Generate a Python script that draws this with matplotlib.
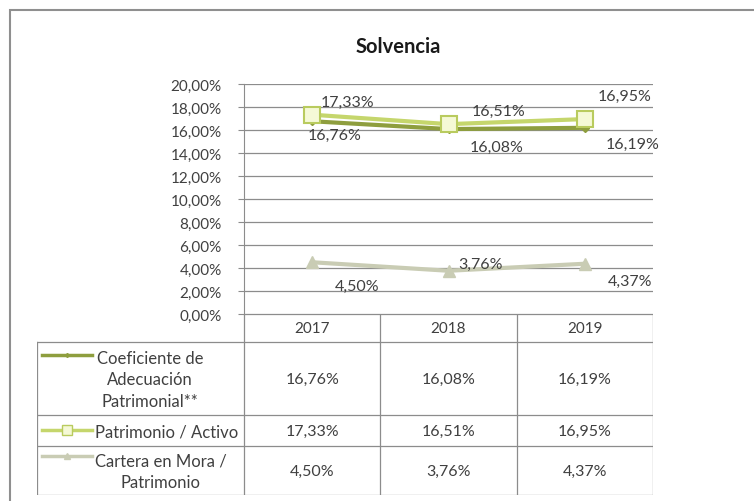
import matplotlib
matplotlib.use("Agg")
import matplotlib.pyplot as plt
from matplotlib.patches import Rectangle

years = ["2017", "2018", "2019"]
coef_adecuacion = [16.76, 16.08, 16.19]
patrimonio_activo = [17.33, 16.51, 16.95]
cartera_mora = [4.50, 3.76, 4.37]
series_names = ["Coeficiente de\nAdecuación\nPatrimonial**",
                "Patrimonio / Activo",
                "Cartera en Mora /\nPatrimonio"]
y_ticks = [0, 2, 4, 6, 8, 10, 12, 14, 16, 18, 20]


def pct(v):
    return f"{v:.2f}%".replace(".", ",")


plt.rcParams["font.family"] = ["Lato", "DejaVu Sans"]
TXT = "#404040"
GRID = "#8c8c8c"

# line styles for the three series
styles = [
    dict(color="#8e9e3e", lw=3.0, marker="D", ms=4, mfc="#8e9e3e", mec="#8e9e3e"),
    dict(color="#c5d66c", lw=3.0, marker="s", ms=11, mfc="#f5f9d6", mec="#b9cb5e", mew=1.5),
    dict(color="#c9ccb4", lw=3.0, marker="^", ms=9, mfc="#c9ccb4", mec="#c9ccb4"),
]
# data label offsets in pixels (dx, dy with dy positive = down)
label_offsets = [
    [(22, 14), (48, 18), (48, 16)],
    [(35, -13), (50, -13), (40, -23)],
    [(45, 24), (32, -7), (45, 17)],
]

W, H = 754, 502
fig = plt.figure(figsize=(W / 100, H / 100), dpi=100)

# outer chart border
fig.patches.append(Rectangle((10 / W, -0.05), 1.0, 1 - 11 / H + 0.05,
                             transform=fig.transFigure, fill=False,
                             edgecolor="#8f8f8f", lw=1.5))

fig.text(398 / W, 1 - 47 / H, "Solvencia", ha="center", va="center",
         fontsize=14.5, fontweight="bold", color="#1a1a1a")

# plot area
left, right, top, bottom = 244, 653, 85, 315
ax = fig.add_axes([left / W, 1 - bottom / H, (right - left) / W, (bottom - top) / H])
x = list(range(len(years)))
all_series = [coef_adecuacion, patrimonio_activo, cartera_mora]
for vals, st, offs in zip(all_series, styles, label_offsets):
    ax.plot(x, vals, solid_capstyle="round", zorder=3, **st)
    for xi, v, (dx, dy) in zip(x, vals, offs):
        ax.annotate(pct(v), (xi, v), xytext=(dx, -dy), textcoords="offset pixels",
                    ha="center", va="center", fontsize=11.5, color=TXT, zorder=4)
ax.set_xlim(-0.5, len(years) - 0.5)
ax.set_ylim(0, 20)
ax.set_yticks(y_ticks)
ax.set_yticklabels([pct(t) for t in y_ticks], fontsize=11, color=TXT)
ax.set_xticks([])
ax.yaxis.grid(True, color=GRID, lw=0.9)
ax.set_axisbelow(True)
for s in ["top", "right", "bottom"]:
    ax.spines[s].set_visible(False)
ax.spines["left"].set_color(GRID)
ax.tick_params(axis="y", length=4, color=GRID, pad=12)

# data table under the plot
t_left, t_bottom = 37, 496
tab = fig.add_axes([t_left / W, 1 - t_bottom / H, (right - t_left) / W, (t_bottom - bottom) / H])
tab.set_xlim(t_left, right)
tab.set_ylim(t_bottom, bottom)
tab.axis("off")
col_edges = [t_left, left] + [left + (right - left) * (i + 1) / len(years) for i in range(len(years))]
row_edges = [315, 343, 416, 447, 496]
lc = dict(color=GRID, lw=0.9)

for c in range(1, len(col_edges)):
    tab.plot([col_edges[c], col_edges[c]], [row_edges[0], row_edges[-1]], **lc)
tab.plot([left, right], [row_edges[0], row_edges[0]], **lc)
tab.plot([t_left, t_left], [row_edges[1], row_edges[-1]], **lc)
for r in range(1, len(row_edges)):
    tab.plot([t_left, right], [row_edges[r], row_edges[r]], **lc)

# header row
for i, yr in enumerate(years):
    tab.text((col_edges[i + 1] + col_edges[i + 2]) / 2, (row_edges[0] + row_edges[1]) / 2,
             yr, ha="center", va="center", fontsize=11, color=TXT)

# series rows, each with its legend key
text_x = [150, 167, 161]
key_y = [356, 431, 457]
for i, (name, vals, st) in enumerate(zip(series_names, all_series, styles)):
    r0, r1 = row_edges[i + 1], row_edges[i + 2]
    ym = (r0 + r1) / 2
    tab.text(text_x[i], ym + 1, name, ha="center", va="center", fontsize=12,
             color=TXT, multialignment="center", linespacing=1.45)
    ms = st["ms"] * (0.6 if st["marker"] == "s" else 0.5)
    tab.plot([42, 92], [key_y[i], key_y[i]], color=st["color"], lw=2.5)
    tab.plot([67], [key_y[i]], marker=st["marker"], ms=ms, mfc=st["mfc"],
             mec=st["mec"], ls="none")
    for j, v in enumerate(vals):
        tab.text((col_edges[j + 1] + col_edges[j + 2]) / 2, ym, pct(v),
                 ha="center", va="center", fontsize=11.5, color=TXT)

fig.savefig("out.png", dpi=100)
